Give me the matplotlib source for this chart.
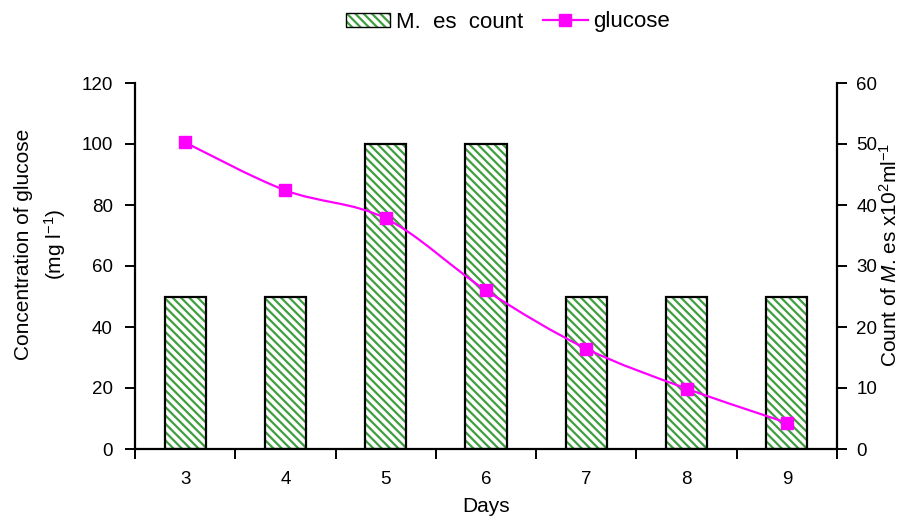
import numpy as np
import matplotlib
matplotlib.use("Agg")
import matplotlib.pyplot as plt
from matplotlib.path import Path
from matplotlib.patches import PathPatch, Patch
from matplotlib.lines import Line2D

plt.rcParams['font.family'] = ['Liberation Sans', 'DejaVu Sans']
plt.rcParams['font.size'] = 13.5
plt.rcParams['hatch.linewidth'] = 1.6
plt.rcParams['mathtext.fontset'] = 'custom'
plt.rcParams['mathtext.rm'] = 'Liberation Sans'
plt.rcParams['mathtext.it'] = 'Liberation Sans:italic'

days = ['3', '4', '5', '6', '7', '8', '9']
mes_count = [25, 25, 50, 50, 25, 25, 25]           # x10^2 per ml
glucose = [100.5, 84.8, 75.6, 52.0, 32.9, 19.8, 8.6]  # mg per l

GREEN = '#3f9f3f'
MAGENTA = '#ff00ff'
HATCH = '\\\\\\\\'
LABEL_SIZE = 15

fig = plt.figure(figsize=(9.2, 5.27), dpi=100)
ax = fig.add_axes([135 / 920, 1 - 449 / 527, (837 - 135) / 920, (449 - 83) / 527])
ax2 = ax.twinx()

x = np.arange(len(days))
bw = 0.41

# bars on the count axis: hatched fill, then black outline
ax2.bar(x, mes_count, width=bw, facecolor='white', edgecolor=GREEN,
        hatch=HATCH, linewidth=0, zorder=2)
ax2.bar(x, mes_count, width=bw, facecolor='none', edgecolor='black',
        linewidth=1.6, zorder=3)

# smoothed glucose line (Catmull-Rom as cubic Bezier through the points)
pts = np.column_stack([x, glucose]).astype(float)
verts = [pts[0]]
codes = [Path.MOVETO]
n = len(pts)
for i in range(n - 1):
    p0 = pts[i - 1] if i > 0 else pts[i]
    p1 = pts[i]
    p2 = pts[i + 1]
    p3 = pts[i + 2] if i + 2 < n else pts[i + 1]
    c1 = p1 + (p2 - p0) / 6.0
    c2 = p2 - (p3 - p1) / 6.0
    verts += [c1, c2, p2]
    codes += [Path.CURVE4] * 3
ax.add_patch(PathPatch(Path(verts, codes), facecolor='none', edgecolor=MAGENTA,
                       linewidth=1.6, zorder=4))
ax.plot(x, glucose, linestyle='none', marker='s', markersize=8,
        color=MAGENTA, zorder=5)

ax.set_zorder(ax2.get_zorder() + 1)
ax.patch.set_visible(False)

ax.set_xlim(-0.5, len(days) - 0.5)
ax.set_ylim(0, 120)
ax2.set_ylim(0, 60)
ax.set_yticks(np.arange(0, 121, 20))
ax2.set_yticks(np.arange(0, 61, 10))

# category labels centred, tick marks on boundaries
ax.set_xticks(x)
ax.set_xticklabels(days)
ax.tick_params(axis='x', which='major', length=0, pad=16)
ax.set_xticks(np.arange(-0.5, len(days) + 0.5, 1.0), minor=True)
ax.tick_params(axis='x', which='minor', length=7, width=1.4, direction='out')

ax.tick_params(axis='y', length=7, width=1.4, direction='out', pad=9)
ax2.tick_params(axis='y', length=7, width=1.4, direction='out', pad=7)

for a in (ax, ax2):
    a.spines['top'].set_visible(False)
    for s in ('left', 'right', 'bottom'):
        a.spines[s].set_linewidth(1.6)
ax.spines['right'].set_visible(False)
ax2.spines['left'].set_visible(False)
ax2.spines['bottom'].set_visible(False)

ax.set_xlabel('Days', fontsize=LABEL_SIZE)
ax.xaxis.set_label_coords(0.5, -0.13)
ax.set_ylabel('Concentration of glucose\n(mg l$^{-1}$)', linespacing=1.45,
              fontsize=LABEL_SIZE)
ax.yaxis.set_label_coords(-0.096, 0.56)
ax2.set_ylabel(r'Count of $\it{M}$. es x10$^{2}$ml$^{-1}$', fontsize=LABEL_SIZE)
ax2.yaxis.set_label_coords(1.06, 0.53)

patch_h = Patch(facecolor='white', edgecolor=GREEN, hatch=HATCH, linewidth=0)
outline_h = Patch(facecolor='none', edgecolor='black', linewidth=1)
line_h = Line2D([0], [0], color=MAGENTA, linewidth=1.6, marker='s', markersize=8)
fig.legend([(patch_h, outline_h), line_h], ['M.  es  count', 'glucose'],
           loc='center', bbox_to_anchor=(508 / 920, 1 - 22 / 527), ncol=2,
           frameon=False, fontsize=16, handlelength=2.0, handleheight=0.6,
           columnspacing=0.9, handletextpad=0.25)

fig.savefig('out.png', dpi=100)
